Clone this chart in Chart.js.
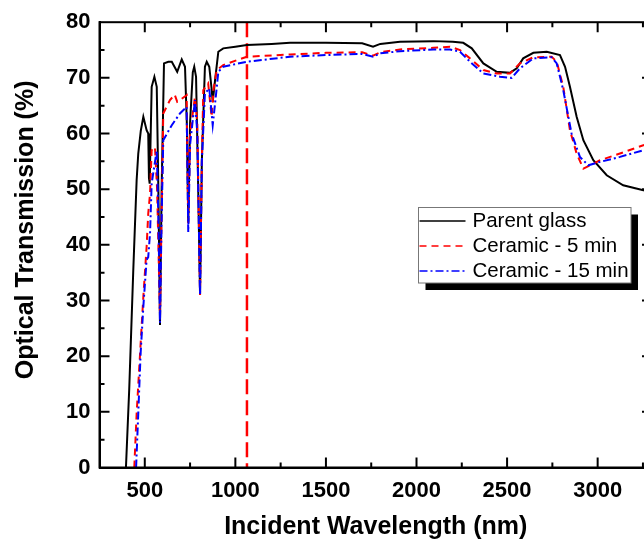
<!DOCTYPE html>
<html>
<head>
<meta charset="utf-8">
<script src="https://cdn.jsdelivr.net/npm/chart.js@4"></script>
<style>
  html, body { margin: 0; padding: 0; background: #fff; overflow: hidden; }
  canvas { display: block; }
</style>
</head>
<body>
<canvas id="myChart" width="660" height="540"></canvas>
<script>
// values
const seriesLabels = ['Parent glass', 'Ceramic - 5 min', 'Ceramic - 15 min'];

const parentNm = [396, 414, 436, 455, 464, 478, 492, 510, 519, 523, 527, 538, 553, 566, 575, 584, 593, 606, 630, 649, 679, 704, 722, 732, 740, 750, 765, 773, 783, 795, 805, 815, 832, 842, 856, 869, 875, 888, 906, 933, 1000, 1063, 1200, 1302, 1500, 1700, 1760, 1800, 1909, 2093, 2200, 2258, 2305, 2369, 2443, 2516, 2553, 2589, 2645, 2719, 2792, 2820, 2847, 2884, 2921, 2976, 3050, 3141, 3252, 3300];
const parentT = [0, 14, 35, 51.6, 56.4, 60.5, 63.0, 60.6, 60.0, 52, 51, 68.4, 70.2, 68.4, 50, 25.6, 50, 72.6, 72.9, 72.9, 71.1, 73.3, 72, 62, 44, 62, 71, 72, 70.2, 50, 31, 55, 72, 72.9, 72, 68, 65.7, 69.6, 74.7, 75.3, 75.6, 75.9, 76.1, 76.3, 76.3, 76.2, 75.6, 76.1, 76.5, 76.6, 76.5, 76.3, 75.3, 72.6, 71.1, 70.9, 71.7, 73.5, 74.5, 74.7, 74.1, 72, 68.4, 63, 58.8, 55.2, 52.5, 50.7, 49.8, 49.6];

const ceramic5Nm = [442, 455, 474, 492, 510, 519, 529, 538, 556, 568, 584, 595, 602, 639, 665, 679, 694, 731, 740, 750, 777, 790, 805, 815, 823, 850, 869, 880, 897, 933, 1063, 1302, 1500, 1700, 1760, 1800, 1909, 2093, 2185, 2240, 2295, 2369, 2443, 2516, 2571, 2645, 2746, 2774, 2810, 2847, 2884, 2921, 3013, 3123, 3252, 3300];
const ceramic5T = [0, 9.7, 20.5, 30.7, 39.6, 45.6, 49.2, 57.0, 57.6, 50, 27, 50, 63.6, 66, 67, 65.7, 66, 66.9, 43.9, 60, 66.6, 62, 31, 55, 67.8, 69, 63, 68, 71.4, 72.3, 73.8, 74.2, 74.5, 74.6, 74.0, 74.6, 75.1, 75.4, 75.6, 75, 73.5, 71.4, 70.8, 70.8, 72.6, 73.7, 73.8, 72.9, 68.4, 60.6, 56.4, 53.7, 55.2, 56.4, 57.9, 58.3];

const ceramic15Nm = [452, 464, 477, 492, 510, 519, 529, 538, 566, 575, 584, 593, 602, 649, 694, 731, 740, 750, 777, 790, 805, 815, 832, 856, 875, 890, 906, 933, 1063, 1302, 1500, 1700, 1760, 1800, 1909, 2093, 2185, 2240, 2295, 2369, 2461, 2525, 2571, 2645, 2746, 2774, 2810, 2856, 2902, 2948, 3013, 3123, 3252, 3300];
const ceramic15T = [0, 9.7, 20.5, 28.9, 37.3, 37.8, 42.1, 51, 57, 45, 26, 45, 58.8, 61.5, 63.6, 64.8, 42.3, 58, 66, 60, 31, 55, 67.2, 68.1, 61.5, 66, 71.1, 72, 72.9, 73.8, 74.1, 74.3, 73.8, 74.4, 74.8, 75.1, 75.1, 74.7, 72.9, 70.8, 70.2, 70, 71.7, 73.5, 73.7, 72.6, 67.8, 60, 55.8, 54.3, 54.9, 55.8, 57, 57.4];

const laserNm = [1064, 1064];
const laserT = [80, 0];

const wavelengthTicks = [500, 1000, 1500, 2000, 2500, 3000];
const transmissionTicks = [0, 10, 20, 30, 40, 50, 60, 70, 80];

const toPoints = (xs, ys) => xs.map((v, i) => ({ x: v, y: ys[i] }));

const fontFamily = "'Liberation Sans', Arial, sans-serif";
const labelFont = { family: fontFamily, size: 22, weight: 'bold' };
const titleFont = { family: fontFamily, size: 25, weight: 'bold', lineHeight: 1 };
const yTitle = 'Optical Transmission (%)';

// Origin style frame: box all round, ticks pointing in, legend with a drop shadow
const frameAndLegend = {
  id: 'frameAndLegend',
  afterDraw(chart) {
    const { ctx, chartArea: a, scales: { x, y } } = chart;
    ctx.save();
    ctx.strokeStyle = '#000';
    ctx.lineWidth = 2;
    ctx.strokeRect(a.left, a.top, a.right - a.left, a.bottom - a.top);

    ctx.beginPath();
    const xv = x.ticks.map(t => t.value);
    const xStep = xv[1] - xv[0];
    for (let v = xv[0] - xStep / 2; v <= x.max; v += xStep / 2) {
      if (v <= x.min) continue;
      const len = xv.includes(v) ? 10 : 5;
      const p = x.getPixelForValue(v);
      ctx.moveTo(p, a.bottom); ctx.lineTo(p, a.bottom - len);
      ctx.moveTo(p, a.top); ctx.lineTo(p, a.top + len);
    }
    const yv = y.ticks.map(t => t.value);
    const yStep = yv[1] - yv[0];
    for (let v = y.min + yStep / 2; v < y.max; v += yStep / 2) {
      const len = yv.includes(v) ? 10 : 5;
      const p = y.getPixelForValue(v);
      ctx.moveTo(a.left, p); ctx.lineTo(a.left + len, p);
      ctx.moveTo(a.right, p); ctx.lineTo(a.right - len, p);
    }
    ctx.stroke();

    // y axis title, sits a bit above the middle of the plot
    ctx.save();
    ctx.translate(26, (a.top + a.bottom) / 2 - 15);
    ctx.rotate(-Math.PI / 2);
    ctx.font = 'bold 25px ' + fontFamily;
    ctx.fillStyle = '#000';
    ctx.textAlign = 'center';
    ctx.textBaseline = 'middle';
    ctx.fillText(yTitle, 0, 0);
    ctx.restore();

    // legend
    const lx = 418.5, ly = 207.5, lw = 212.5, lh = 75.5;
    ctx.fillStyle = '#000';
    ctx.fillRect(lx + 7, ly + 7, lw, lh);
    ctx.fillStyle = '#fff';
    ctx.fillRect(lx, ly, lw, lh);
    ctx.strokeStyle = '#777';
    ctx.lineWidth = 1;
    ctx.strokeRect(lx, ly, lw, lh);

    ctx.font = '20.5px ' + fontFamily;
    ctx.textBaseline = 'middle';
    chart.data.datasets.slice(0, 3).forEach((ds, i) => {
      const ry = ly + 13.5 + i * 25;
      ctx.strokeStyle = ds.borderColor;
      ctx.lineWidth = 1.5;
      ctx.setLineDash(ds.borderDash || []);
      ctx.beginPath();
      ctx.moveTo(lx + 1, ry); ctx.lineTo(lx + 47, ry);
      ctx.stroke();
      ctx.setLineDash([]);
      ctx.fillStyle = '#000';
      ctx.fillText(ds.label, lx + 54, ry);
    });
    ctx.restore();
  }
};

const ctx = document.getElementById('myChart').getContext('2d');

new Chart(ctx, {
  type: 'scatter',
  data: {
    datasets: [
      {
        label: seriesLabels[0],
        data: toPoints(parentNm, parentT),
        borderColor: '#000000',
        borderWidth: 2,
        order: 3
      },
      {
        label: seriesLabels[1],
        data: toPoints(ceramic5Nm, ceramic5T),
        borderColor: '#ff0000',
        borderWidth: 2,
        borderDash: [7, 5],
        order: 2
      },
      {
        label: seriesLabels[2],
        data: toPoints(ceramic15Nm, ceramic15T),
        borderColor: '#0000ff',
        borderWidth: 2,
        borderDash: [8, 3, 2, 3],
        order: 1
      },
      {
        label: '1064 nm',
        data: toPoints(laserNm, laserT),
        borderColor: '#ff0000',
        borderWidth: 2.5,
        borderDash: [15, 6],
        order: 4
      }
    ]
  },
  options: {
    responsive: false,
    animation: false,
    devicePixelRatio: 1,
    showLine: true,
    elements: {
      point: { radius: 0, hoverRadius: 0 },
      line: { tension: 0, fill: false }
    },
    layout: { padding: { top: 22, right: 8, left: 0, bottom: 0 } },
    plugins: {
      legend: { display: false },
      tooltip: { enabled: false }
    },
    scales: {
      x: {
        type: 'linear',
        min: 250,
        max: 3300,
        afterBuildTicks: (scale) => { scale.ticks = wavelengthTicks.map(v => ({ value: v })); },
        afterFit: (scale) => { scale.height = 72.5; },
        grid: { display: false, drawTicks: false },
        border: { display: true, color: '#000', width: 2 },
        ticks: { color: '#000', font: labelFont, padding: 10, maxRotation: 0, callback: (v) => String(v) },
        title: {
          display: true,
          text: 'Incident Wavelength (nm)',
          color: '#000',
          font: titleFont,
          padding: { top: 0, bottom: 0 }
        }
      },
      y: {
        min: 0,
        max: 80,
        afterBuildTicks: (scale) => { scale.ticks = transmissionTicks.map(v => ({ value: v })); },
        afterFit: (scale) => { scale.width = 99.5; },
        grid: { display: false, drawTicks: false },
        border: { display: true, color: '#000', width: 2 },
        ticks: { color: '#000', font: labelFont, padding: 9, callback: (v) => String(v) },
        title: { display: false }
      }
    }
  },
  plugins: [frameAndLegend]
});
</script>
</body>
</html>
